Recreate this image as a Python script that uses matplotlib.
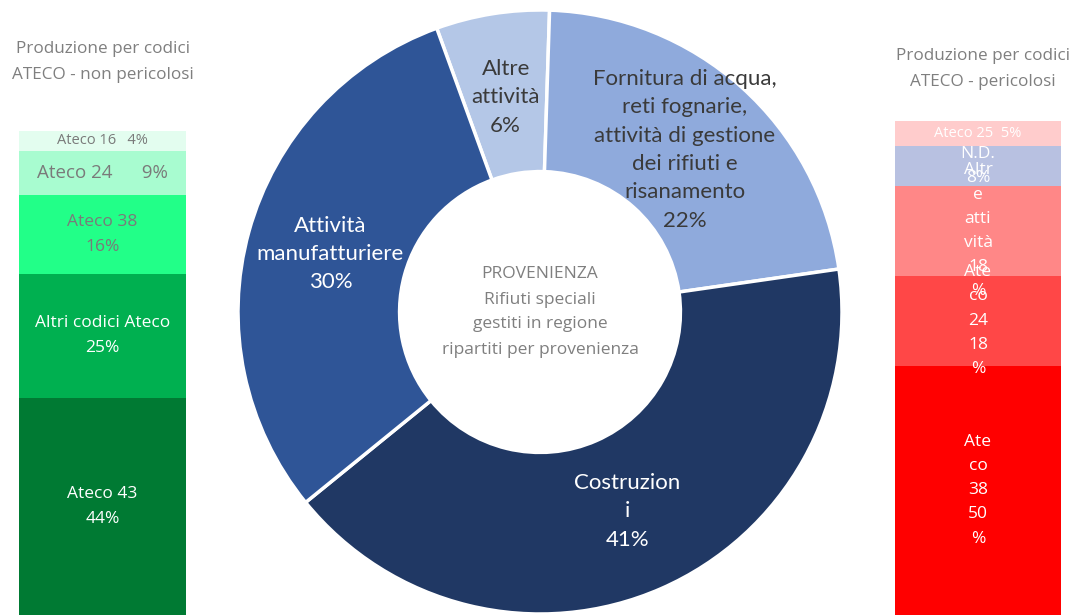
import numpy as np
import matplotlib
matplotlib.use("Agg")
from matplotlib import pyplot as plt

W, H = 1076, 615

# donut: provenance of special waste
donut_labels = ["Altre\nattività", "Fornitura di acqua,\nreti fognarie,\nattività di gestione\ndei rifiuti e\nrisanamento",
                "Costruzion\ni", "Attività\nmanufatturiere"]
donut_values = [6, 22, 41, 30]
donut_colors = ["#b4c7e7", "#8faadc", "#203864", "#2f5597"]
donut_text = ["#3a3a3a", "#3a3a3a", "white", "white"]

# left stacked bar (non hazardous), bottom to top
nonper_labels = ["Ateco 43\n{}%", "Altri codici Ateco\n{}%", "Ateco 38\n{}%", "Ateco 24      {}%", "Ateco 16   {}%"]
nonper_values = [44, 25, 16, 9, 4]
nonper_colors = ["#007a33", "#00b050", "#22ff88", "#a8fcd0", "#e3fdef"]
nonper_text = ["white", "white", "#7a7a7a", "#7a7a7a", "#7a7a7a"]
nonper_size = [12.5, 12.5, 12.5, 13.5, 10.5]

# right stacked bar (hazardous), bottom to top
per_labels = ["Ate\nco\n38\n{}\n%", "Ate\nco\n24\n{}\n%", "Altr\ne\natti\nvità\n{}\n%", "N.D.\n{}%", "Ateco 25  {}%"]
per_values = [50, 18, 18, 8, 5]
per_colors = ["#ff0000", "#ff4747", "#ff8787", "#b8c1e1", "#ffcccc"]
per_size = [12.5, 12.5, 12.5, 12.5, 10.5]

gray = "#7f7f7f"
plt.rcParams['font.family'] = ['Open Sans', 'DejaVu Sans']

fig = plt.figure(figsize=(W / 100, H / 100), dpi=100)

def px_axes(x0, y0, x1, y1):
    # axes from pixel box (top-left origin)
    return fig.add_axes([x0 / W, 1 - y1 / H, (x1 - x0) / W, (y1 - y0) / H])

# ---- donut
ax = px_axes(238, 10, 842, 614)
wedges, _ = ax.pie(donut_values, colors=donut_colors, startangle=110, counterclock=False,
                   radius=1, wedgeprops=dict(width=0.535, edgecolor="white", linewidth=2.5))
ax.set_xlim(-1, 1)
ax.set_ylim(-1, 1)
ax.set_aspect("equal")
ax.axis("off")
for w, lab, val, c in zip(wedges, donut_labels, donut_values, donut_text):
    mid = np.deg2rad((w.theta1 + w.theta2) / 2)
    r = 0.72
    ax.text(r * np.cos(mid), r * np.sin(mid), f"{lab}\n{val}%", ha="center", va="center",
            color=c, fontsize=16, family=["Lato", "DejaVu Sans"], linespacing=1.52)
ax.text(0, 0.0, "PROVENIENZA\nRifiuti speciali\ngestiti in regione\nripartiti per provenienza",
        ha="center", va="center", color=gray, fontsize=12.5, linespacing=1.75)

# ---- stacked bars
def stacked(box, values, colors, labels, textcols, sizes, spacing):
    bx = px_axes(*box)
    bottoms = np.concatenate([[0], np.cumsum(values)[:-1]])
    bx.bar(0, values, bottom=bottoms, color=colors, width=1, linewidth=0)
    for b, v, lab, tc, fs in zip(bottoms, values, labels, textcols, sizes):
        bx.text(0, b + v / 2, lab.format(v), ha="center", va="center", color=tc,
                fontsize=fs, linespacing=spacing)
    bx.set_xlim(-0.5, 0.5)
    bx.set_ylim(0, sum(values))
    bx.axis("off")
    return bx

stacked((19, 131, 186, 615), nonper_values, nonper_colors, nonper_labels, nonper_text, nonper_size, 1.75)
stacked((895, 121, 1061, 615), per_values, per_colors, per_labels, ["white"] * 5, per_size, 1.68)

fig.text(103 / W, 1 - 62 / H, "Produzione per codici\nATECO - non pericolosi", ha="center", va="center",
         color=gray, fontsize=12.3, linespacing=1.8)
fig.text(983 / W, 1 - 69 / H, "Produzione per codici\nATECO - pericolosi", ha="center", va="center",
         color=gray, fontsize=12.3, linespacing=1.8)

fig.savefig("out.png", dpi=100)
